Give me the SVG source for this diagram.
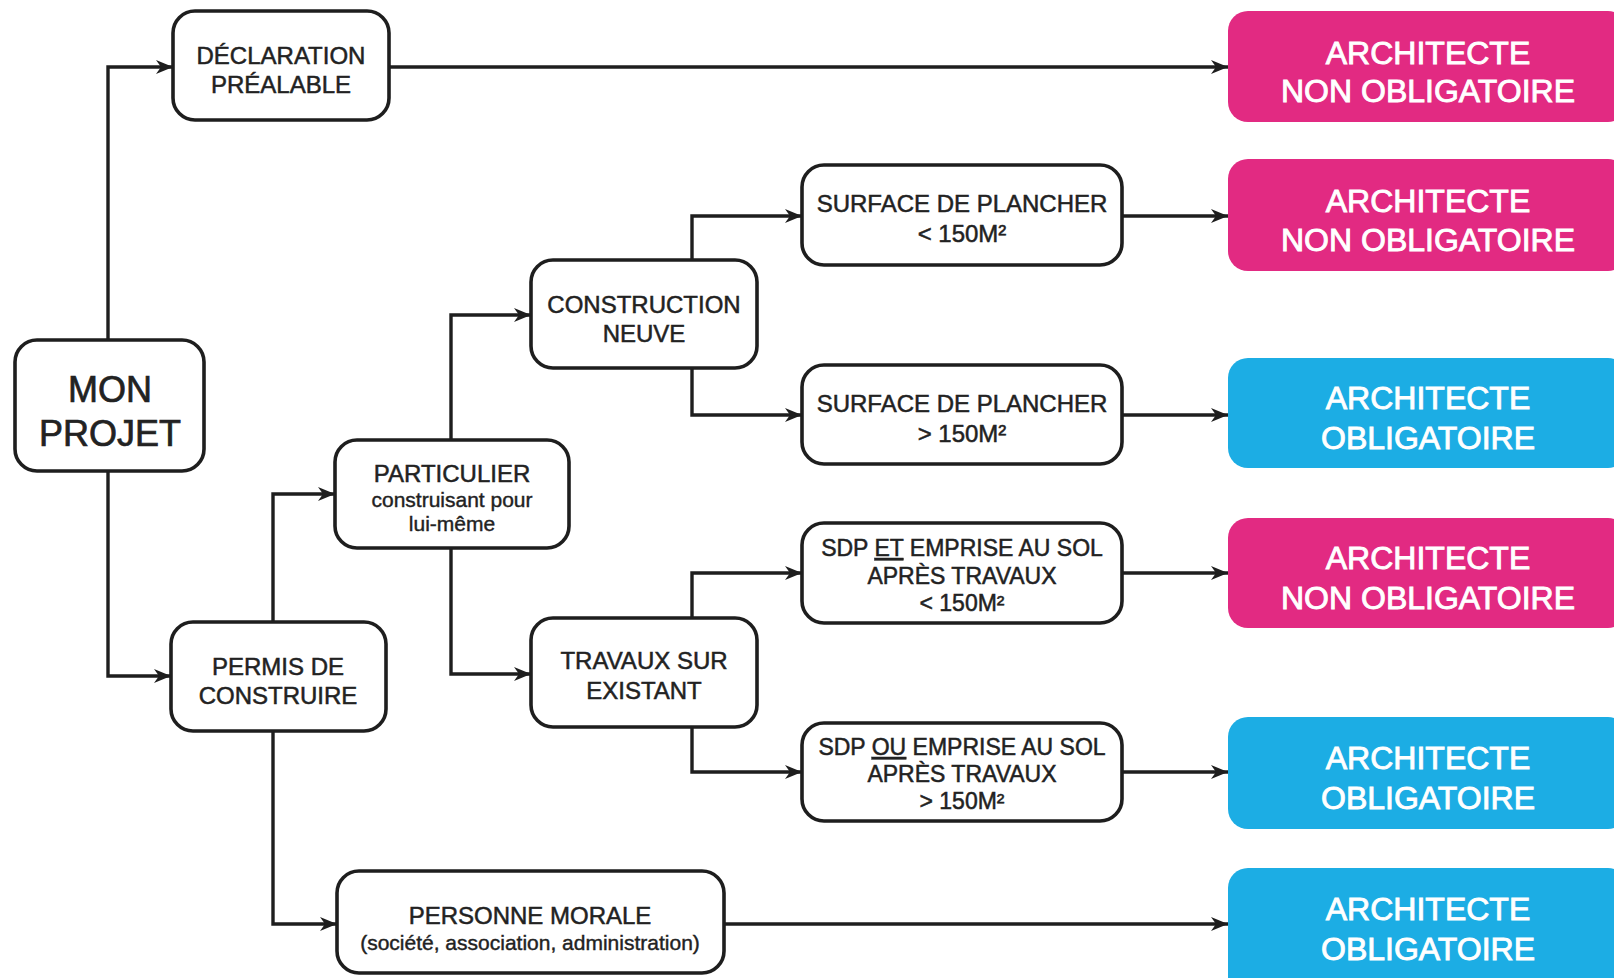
<svg xmlns="http://www.w3.org/2000/svg" width="1614" height="978" viewBox="0 0 1614 978">
<defs>
<style>
.box{fill:#fff;stroke:#1e1e1e;stroke-width:3.6}
.pink{fill:#E22A82}
.blue{fill:#1CADE4}
.t{font-family:"Liberation Sans",Arial,Helvetica,sans-serif;font-size:24px;fill:#222;stroke:#222;stroke-width:0.5;text-anchor:middle}
.s{font-size:21px;stroke-width:0.4}
.m{font-size:23px}
.big{font-size:36px;stroke-width:0.7}
.w{font-family:"Liberation Sans",Arial,Helvetica,sans-serif;font-size:32px;fill:#fff;stroke:#fff;stroke-width:0.9;text-anchor:middle}
.c{fill:none;stroke:#1e1e1e;stroke-width:3.4;marker-end:url(#ah)}
</style>
<marker id="ah" markerUnits="userSpaceOnUse" markerWidth="18" markerHeight="16" refX="17" refY="8" orient="auto">
<path d="M0,1 L17,8 L0,15 L5,8 Z" fill="#1e1e1e"/>
</marker>
</defs>
<rect width="1614" height="978" fill="#fff"/>
<g id="connectors">
<path class="c" d="M108,340 V67 H173"/>
<path class="c" d="M108,471 V676 H171"/>
<path class="c" d="M389,67 H1228"/>
<path class="c" d="M273,622 V494 H335"/>
<path class="c" d="M273,731 V924 H337"/>
<path class="c" d="M451,440 V315 H531"/>
<path class="c" d="M451,548 V674 H531"/>
<path class="c" d="M692,260 V216 H802"/>
<path class="c" d="M692,368 V415 H802"/>
<path class="c" d="M692,618 V573 H802"/>
<path class="c" d="M692,727 V772 H802"/>
<path class="c" d="M1122,216 H1228"/>
<path class="c" d="M1122,415 H1228"/>
<path class="c" d="M1122,573 H1228"/>
<path class="c" d="M1122,772 H1228"/>
<path class="c" d="M724,924 H1228"/>
</g>
<g id="mon-projet">
<rect class="box" x="15" y="340" width="189" height="131" rx="22"/>
<text class="t big" x="110" y="402">MON</text>
<text class="t big" x="110" y="446">PROJET</text>
</g>
<g id="declaration">
<rect class="box" x="173" y="11" width="216" height="109" rx="22"/>
<text class="t" x="281" y="64">DÉCLARATION</text>
<text class="t" x="281" y="93">PRÉALABLE</text>
</g>
<g id="permis">
<rect class="box" x="171" y="622" width="215" height="109" rx="22"/>
<text class="t" x="278" y="675">PERMIS DE</text>
<text class="t" x="278" y="704">CONSTRUIRE</text>
</g>
<g id="particulier">
<rect class="box" x="335" y="440" width="234" height="108" rx="22"/>
<text class="t" x="452" y="482">PARTICULIER</text>
<text class="t s" x="452" y="507">construisant pour</text>
<text class="t s" x="452" y="531">lui-même</text>
</g>
<g id="personne-morale">
<rect class="box" x="337" y="871" width="387" height="102" rx="22"/>
<text class="t" x="530" y="924">PERSONNE MORALE</text>
<text class="t s" x="530" y="950">(société, association, administration)</text>
</g>
<g id="construction-neuve">
<rect class="box" x="531" y="260" width="226" height="108" rx="22"/>
<text class="t" x="644" y="313">CONSTRUCTION</text>
<text class="t" x="644" y="342">NEUVE</text>
</g>
<g id="travaux">
<rect class="box" x="531" y="618" width="226" height="109" rx="22"/>
<text class="t" x="644" y="669">TRAVAUX SUR</text>
<text class="t" x="644" y="699">EXISTANT</text>
</g>
<g id="surface-inf">
<rect class="box" x="802" y="165" width="320" height="100" rx="22"/>
<text class="t" x="962" y="212">SURFACE DE PLANCHER</text>
<text class="t" x="962" y="242">&lt; 150M²</text>
</g>
<g id="surface-sup">
<rect class="box" x="802" y="365" width="320" height="99" rx="22"/>
<text class="t" x="962" y="412">SURFACE DE PLANCHER</text>
<text class="t" x="962" y="442">&gt; 150M²</text>
</g>
<g id="sdp-et">
<rect class="box" x="802" y="523" width="320" height="100" rx="22"/>
<text class="t m" x="962" y="556">SDP <tspan text-decoration="underline">ET</tspan> EMPRISE AU SOL</text>
<text class="t m" x="962" y="584">APRÈS TRAVAUX</text>
<text class="t m" x="962" y="611">&lt; 150M²</text>
</g>
<g id="sdp-ou">
<rect class="box" x="802" y="723" width="320" height="98" rx="22"/>
<text class="t m" x="962" y="755">SDP <tspan text-decoration="underline">OU</tspan> EMPRISE AU SOL</text>
<text class="t m" x="962" y="782">APRÈS TRAVAUX</text>
<text class="t m" x="962" y="809">&gt; 150M²</text>
</g>
<g id="result-1">
<rect class="pink" x="1228" y="11" width="400" height="111" rx="20"/>
<text class="w" x="1428" y="64">ARCHITECTE</text>
<text class="w" x="1428" y="102">NON OBLIGATOIRE</text>
</g>
<g id="result-2">
<rect class="pink" x="1228" y="159" width="400" height="112" rx="20"/>
<text class="w" x="1428" y="212">ARCHITECTE</text>
<text class="w" x="1428" y="251">NON OBLIGATOIRE</text>
</g>
<g id="result-3">
<rect class="blue" x="1228" y="358" width="400" height="110" rx="20"/>
<text class="w" x="1428" y="409">ARCHITECTE</text>
<text class="w" x="1428" y="449">OBLIGATOIRE</text>
</g>
<g id="result-4">
<rect class="pink" x="1228" y="518" width="400" height="110" rx="20"/>
<text class="w" x="1428" y="569">ARCHITECTE</text>
<text class="w" x="1428" y="609">NON OBLIGATOIRE</text>
</g>
<g id="result-5">
<rect class="blue" x="1228" y="717" width="400" height="112" rx="20"/>
<text class="w" x="1428" y="769">ARCHITECTE</text>
<text class="w" x="1428" y="809">OBLIGATOIRE</text>
</g>
<g id="result-6">
<rect class="blue" x="1228" y="868" width="400" height="130" rx="20"/>
<text class="w" x="1428" y="920">ARCHITECTE</text>
<text class="w" x="1428" y="960">OBLIGATOIRE</text>
</g>
</svg>
